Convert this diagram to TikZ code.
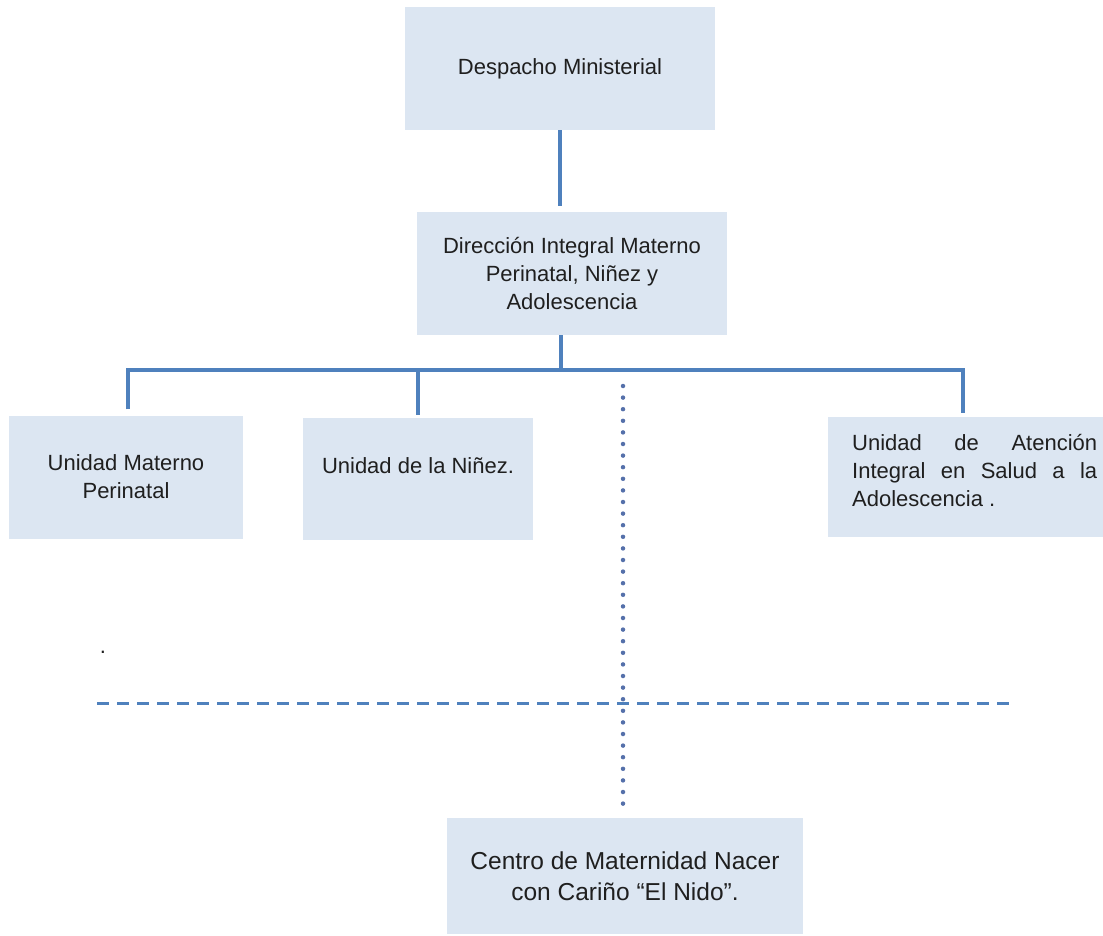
\documentclass[tikz,border=0pt]{standalone}
\usepackage{fontspec}
\setmainfont{Liberation Sans}
\definecolor{cajafondo}{HTML}{DCE6F2}
\definecolor{linea}{HTML}{4F81BD}
\definecolor{punto}{HTML}{5570AA}
\definecolor{texto}{HTML}{1F1F1F}
\begin{document}
\begin{tikzpicture}[x=1pt,y=-1pt,
	caja/.style={fill=cajafondo, inner sep=0pt, text=texto, align=center, font=\fontsize{22}{28}\selectfont},
	letra/.style={inner sep=0pt, text=texto, font=\fontsize{22}{28}\selectfont},
	conector/.style={draw=linea, line width=4pt},
	punteado/.style={draw=punto, line width=4.5pt, line cap=round, dash pattern=on 0pt off 11.6pt},
	discontinua/.style={draw=linea, line width=3pt, dash pattern=on 12pt off 8pt}]
						\useasboundingbox (0,0) rectangle (1103,936);
						% cajas
						\node[caja, minimum width=310pt, minimum height=123pt] (despacho) at (560,68.5) {Despacho Ministerial};
						\node[caja, minimum width=310pt, minimum height=123pt] (direccion) at (572,273.5) {Dirección Integral Materno\\Perinatal, Niñez y\\Adolescencia};
						\node[caja, minimum width=234pt, minimum height=123pt] (materno) at (126,477) {Unidad Materno\\Perinatal};
						\node[caja, minimum width=230pt, minimum height=122pt] (ninez) at (418,479) {};
						\node[letra, anchor=base] (ninezTxt) at (418,473) {Unidad de la Niñez.};
						\node[caja, minimum width=275pt, minimum height=120pt] (adolesc) at (965.5,477) {};
						\node[letra, anchor=base west, text width=245pt, align=justify] (adolescTxt) at (852,450)
							{\mbox{Unidad} de \mbox{Atención} \mbox{Integral} en \mbox{Salud} a la \mbox{Adolescencia} .};
						\node[caja, minimum width=356pt, minimum height=116pt, font=\fontsize{24.5}{30.5}\selectfont] (centro) at (625,876) {Centro de Maternidad Nacer\\con Cariño “El Nido”.};
						\node[letra, anchor=base] (punto) at (103,653) {.};
						% conectores
						\draw[conector, shorten >=6pt] (despacho.south) -- (despacho.south |- direccion.north);
						\coordinate (bus) at (561,370);
						\draw[conector] (direccion.south -| bus) -- (bus);
						\draw[conector, shorten <=6pt, shorten >=4pt] (materno.north) ++(2,0) |- (bus) -| ([xshift=-3pt]adolesc.north);
						\draw[conector, shorten >=3pt] (ninez.north |- bus) -- (ninez.north);
						% lineas
						\coordinate (dotTop) at (623,386);
						\draw[punteado, shorten >=6pt] (dotTop) -- (centro.north -| dotTop);
						\coordinate (dashL) at (97,703);
						\coordinate (dashR) at (1010,703);
						\draw[discontinua] (dashL) -- (dashR);
					\end{tikzpicture}
\end{document}
